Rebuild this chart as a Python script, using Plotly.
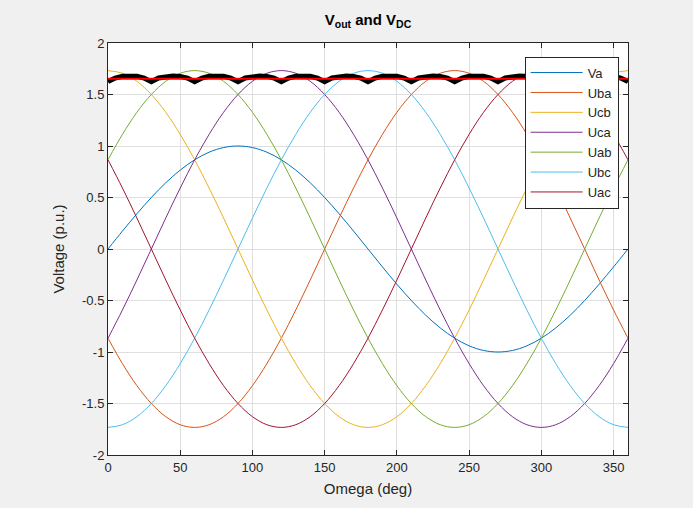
import plotly.graph_objects as go

# Electrical angle, 10-degree steps from 0 to 360
omega = list(range(0, 361, 10))

# Phase voltage and line-to-line voltages (p.u.)
va = [0, 0.174, 0.342, 0.5, 0.643, 0.766, 0.866, 0.940, 0.985, 1.0, 0.985, 0.940, 0.866,
      0.766, 0.643, 0.5, 0.342, 0.174, 0, -0.174, -0.342, -0.5, -0.643, -0.766, -0.866,
      -0.940, -0.985, -1.0, -0.985, -0.940, -0.866, -0.766, -0.643, -0.5, -0.342, -0.174, 0]
uba = [-0.866, -1.113, -1.327, -1.5, -1.628, -1.706, -1.732, -1.706, -1.628, -1.5, -1.327,
       -1.113, -0.866, -0.592, -0.301, 0, 0.301, 0.592, 0.866, 1.113, 1.327, 1.5, 1.628,
       1.706, 1.732, 1.706, 1.628, 1.5, 1.327, 1.113, 0.866, 0.592, 0.301, 0, -0.301,
       -0.592, -0.866]
ucb = [1.732, 1.706, 1.628, 1.5, 1.327, 1.113, 0.866, 0.592, 0.301, 0, -0.301, -0.592,
       -0.866, -1.113, -1.327, -1.5, -1.628, -1.706, -1.732, -1.706, -1.628, -1.5, -1.327,
       -1.113, -0.866, -0.592, -0.301, 0, 0.301, 0.592, 0.866, 1.113, 1.327, 1.5, 1.628,
       1.706, 1.732]
uca = [-0.866, -0.592, -0.301, 0, 0.301, 0.592, 0.866, 1.113, 1.327, 1.5, 1.628, 1.706,
       1.732, 1.706, 1.628, 1.5, 1.327, 1.113, 0.866, 0.592, 0.301, 0, -0.301, -0.592,
       -0.866, -1.113, -1.327, -1.5, -1.628, -1.706, -1.732, -1.706, -1.628, -1.5, -1.327,
       -1.113, -0.866]
uab = [0.866, 1.113, 1.327, 1.5, 1.628, 1.706, 1.732, 1.706, 1.628, 1.5, 1.327, 1.113,
       0.866, 0.592, 0.301, 0, -0.301, -0.592, -0.866, -1.113, -1.327, -1.5, -1.628,
       -1.706, -1.732, -1.706, -1.628, -1.5, -1.327, -1.113, -0.866, -0.592, -0.301, 0,
       0.301, 0.592, 0.866]
ubc = [-1.732, -1.706, -1.628, -1.5, -1.327, -1.113, -0.866, -0.592, -0.301, 0, 0.301,
       0.592, 0.866, 1.113, 1.327, 1.5, 1.628, 1.706, 1.732, 1.706, 1.628, 1.5, 1.327,
       1.113, 0.866, 0.592, 0.301, 0, -0.301, -0.592, -0.866, -1.113, -1.327, -1.5,
       -1.628, -1.706, -1.732]
uac = [0.866, 0.592, 0.301, 0, -0.301, -0.592, -0.866, -1.113, -1.327, -1.5, -1.628,
       -1.706, -1.732, -1.706, -1.628, -1.5, -1.327, -1.113, -0.866, -0.592, -0.301, 0,
       0.301, 0.592, 0.866, 1.113, 1.327, 1.5, 1.628, 1.706, 1.732, 1.706, 1.628, 1.5,
       1.327, 1.113, 0.866]

# Rectified output voltage, 5-degree steps
omega_out = list(range(0, 361, 5))
vout = [1.625, 1.660, 1.676, 1.680, 1.676, 1.660] * 12 + [1.625]

# Average DC voltage
omega_dc = [0, 360]
vdc = [1.654, 1.654]

series_names = ["Va", "Uba", "Ucb", "Uca", "Uab", "Ubc", "Uac"]
series_values = [va, uba, ucb, uca, uab, ubc, uac]
series_colors = ["#0072BD", "#D95319", "#EDB120", "#7E2F8E", "#77AC30", "#4DBEEE", "#A2142F"]

x_ticks = [0, 50, 100, 150, 200, 250, 300, 350]
y_ticks = [-2, -1.5, -1, -0.5, 0, 0.5, 1, 1.5, 2]
y_tick_labels = ["-2", "-1.5", "-1", "-0.5", "0", "0.5", "1", "1.5", "2"]

AXIS_COLOR = "#262626"
FONT = "Liberation Sans, Arial, Helvetica, sans-serif"

fig = go.Figure()
for name, vals, col in zip(series_names, series_values, series_colors):
    fig.add_trace(go.Scatter(x=omega, y=vals, name=name, mode="lines",
                             line=dict(color=col, width=1, shape="spline", smoothing=1.0)))

fig.add_trace(go.Scatter(x=omega_out, y=vout, mode="lines", showlegend=False,
                         line=dict(color="black", width=5)))
fig.add_trace(go.Scatter(x=omega_dc, y=vdc, mode="lines", showlegend=False,
                         line=dict(color="#FF0000", width=2)))

fig.update_layout(
    width=693, height=508,
    margin=dict(l=108, r=65, t=43, b=53),
    paper_bgcolor="#F0F0F0",
    plot_bgcolor="white",
    font=dict(family=FONT, color=AXIS_COLOR, size=13),
    title=dict(text="<b>V<sub>out</sub> and V<sub>DC</sub></b>", x=0.5, xref="paper",
               xanchor="center", y=0.962, yanchor="middle",
               font=dict(size=15, color="black")),
    legend=dict(x=0.982, y=0.967, xanchor="right", yanchor="top",
                bgcolor="white", bordercolor=AXIS_COLOR, borderwidth=1,
                font=dict(size=13, color=AXIS_COLOR), itemwidth=52,
                tracegroupgap=0),
    showlegend=True,
)

fig.update_xaxes(range=[0, 360], tickvals=x_ticks, ticks="inside", ticklen=5,
                 tickcolor=AXIS_COLOR, showline=True, linecolor=AXIS_COLOR, linewidth=1,
                 mirror="ticks", showgrid=True, gridcolor="#DFDFDF", gridwidth=1,
                 zeroline=False, tickfont=dict(size=13, color=AXIS_COLOR),
                 title=dict(text="Omega (deg)", font=dict(size=15, color=AXIS_COLOR), standoff=9))
fig.update_yaxes(range=[-2, 2], tickvals=y_ticks, ticktext=y_tick_labels, ticks="inside",
                 ticklen=5, tickcolor=AXIS_COLOR, showline=True, linecolor=AXIS_COLOR,
                 linewidth=1, mirror="ticks", showgrid=True, gridcolor="#DFDFDF",
                 gridwidth=1, zeroline=False, tickfont=dict(size=13, color=AXIS_COLOR),
                 title=dict(text="Voltage (p.u.)", font=dict(size=15, color=AXIS_COLOR), standoff=13))

fig.write_html("out.html")
